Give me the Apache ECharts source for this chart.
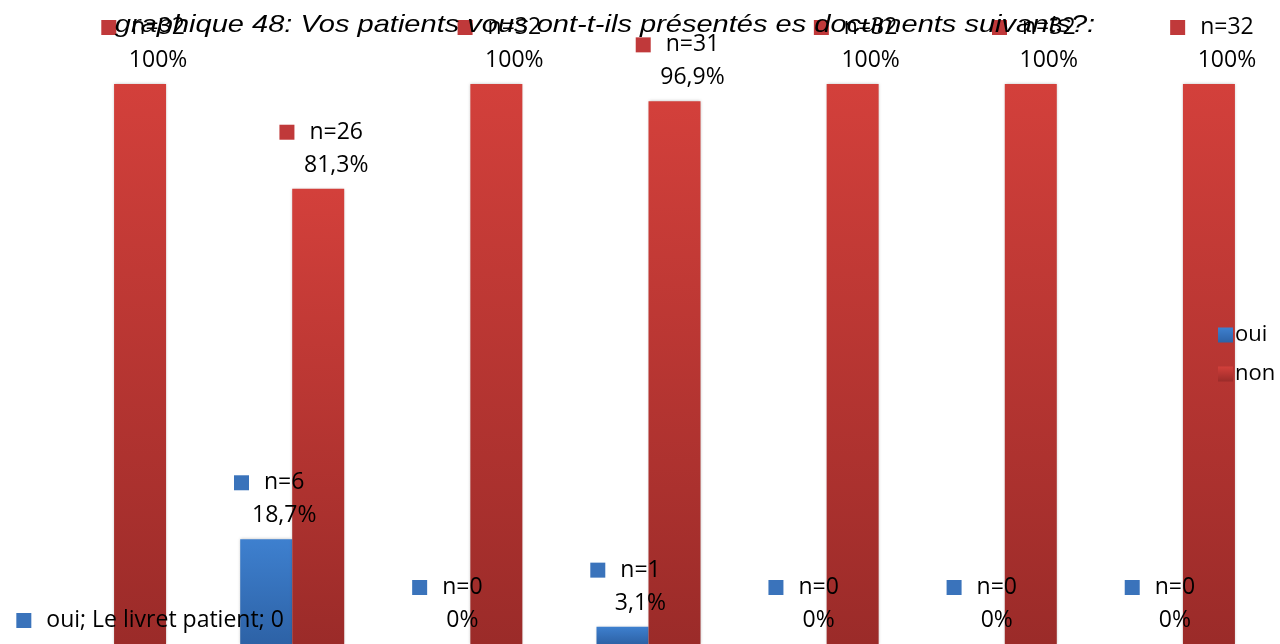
<!DOCTYPE html>
<html>
<head>
<meta charset="utf-8">
<script src="https://cdn.jsdelivr.net/npm/echarts@6/dist/echarts.min.js"></script>
<style>
  html, body { margin: 0; padding: 0; background: #fff; }
  #chart { width: 1280px; height: 644px; }
</style>
</head>
<body>
<div id="chart"></div>
<script>
// Documents asked about, in chart order
const categories = ['Le livret patient', 'Document 2', 'Document 3', 'Document 4', 'Document 5', 'Document 6', 'Document 7'];
// Percentages per answer
const ouiPct = [0, 18.7, 0, 3.1, 0, 0, 0];
const nonPct = [100, 81.3, 100, 96.9, 100, 100, 100];
// Respondent counts per answer
const ouiN = [0, 6, 0, 1, 0, 0, 0];
const nonN = [32, 26, 32, 31, 32, 32, 32];
const seriesNames = ['oui', 'non'];
const titleText = 'graphique 48: Vos patients vous ont-t-ils présentés es documents suivants?:';

const LABEL_FONT = '"Open Sans", Lato, sans-serif';
const BLUE_MARK = '#3a73bb';
const RED_MARK = '#c0393a';

function pctText(v) {
  return (Math.round(v * 10) / 10).toString().replace('.', ',') + '%';
}

function grad(top, bottom) {
  return new echarts.graphic.LinearGradient(0, 0, 0, 1, [
    { offset: 0, color: top },
    { offset: 1, color: bottom }
  ]);
}

function richFor(markColor) {
  return {
    m: { width: 15, height: 15, backgroundColor: markColor },
    g: { width: 15 },
    sp: { width: 30 },
    t: { fontFamily: LABEL_FONT, fontSize: 23, color: '#000', lineHeight: 33 }
  };
}

function buildData(pcts, counts, seriesIdx) {
  return pcts.map((v, i) => {
    const item = { value: v };
    if (seriesIdx === 0 && i === 0) {
      // first point shows series; category; value
      item.label = {
        formatter: () => '{m|}{g|}{t|' + seriesNames[0] + '; ' + categories[0] + '; ' + counts[0] + '}',
        offset: [62, 0]
      };
    } else {
      item.label = {
        formatter: () => '{m|}{g|}{t|n=' + counts[i] + '}{sp|}\n{t|' + pctText(v) + '}'
      };
    }
    return item;
  });
}

const chart = echarts.init(document.getElementById('chart'), null, { renderer: 'canvas' });

const barShadow = { shadowBlur: 3, shadowColor: 'rgba(0,0,0,0.25)', shadowOffsetX: 0 };

chart.setOption({
  animation: false,
  backgroundColor: '#fff',
  // title drawn as a horizontally widened text element
  graphic: [{
    type: 'text',
    x: 605,
    y: 25,
    scaleX: 1.21,
    z: 100,
    style: {
      text: titleText,
      font: 'italic 24px "Liberation Sans", Arial, sans-serif',
      fill: '#000',
      textAlign: 'center',
      textVerticalAlign: 'middle'
    }
  }],
  legend: {
    orient: 'vertical',
    left: 1213,
    top: 319,
    itemWidth: 15,
    itemHeight: 15,
    itemGap: 17,
    icon: 'rect',
    textStyle: { fontFamily: LABEL_FONT, fontSize: 22, color: '#000', padding: [0, 0, 0, -3] },
    data: seriesNames
  },
  grid: { left: 25, right: 8, top: 84, bottom: -1, containLabel: false },
  xAxis: {
    type: 'category',
    data: categories,
    show: false
  },
  yAxis: {
    type: 'value',
    min: 0,
    max: 100,
    show: false
  },
  series: [
    {
      name: seriesNames[0],
      type: 'bar',
      barWidth: 52,
      barGap: '0%',
      itemStyle: Object.assign({ color: grad('#3e80cf', '#2d62a6') }, barShadow),
      label: {
        show: true,
        position: 'top',
        distance: 7,
        offset: [18, 0],
        align: 'center',
        rich: richFor(BLUE_MARK)
      },
      data: buildData(ouiPct, ouiN, 0)
    },
    {
      name: seriesNames[1],
      type: 'bar',
      barWidth: 52,
      barGap: '0%',
      itemStyle: Object.assign({ color: grad('#d3403b', '#9b2b29') }, barShadow),
      label: {
        show: true,
        position: 'top',
        distance: 7,
        offset: [18, 0],
        align: 'center',
        rich: richFor(RED_MARK)
      },
      data: buildData(nonPct, nonN, 1)
    }
  ]
});
</script>
</body>
</html>
